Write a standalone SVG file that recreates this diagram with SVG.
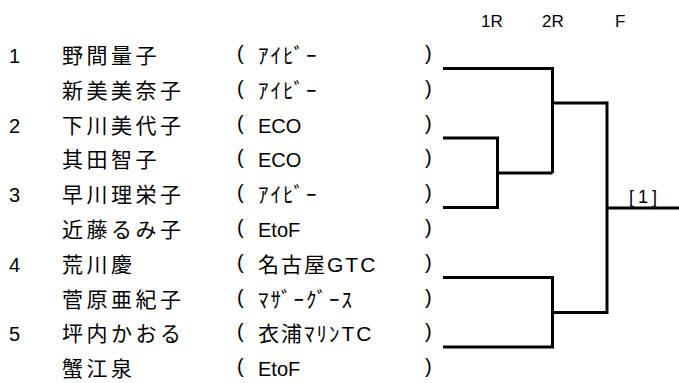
<svg xmlns="http://www.w3.org/2000/svg" width="679" height="383" viewBox="0 0 679 383">
<style>
text{font-family:"Liberation Sans","Noto Sans CJK JP",sans-serif;fill:#000}
.num{font-size:20px}
.name{font-size:21px;letter-spacing:3.5px}
.team{font-size:21px;letter-spacing:2px}
.lat{font-size:20px}
.par{font-size:20px}
.hdr{font-size:17px}
.res{font-size:18px;letter-spacing:4px}
.ln{fill:none;stroke:#000;stroke-width:3;stroke-linejoin:miter;stroke-linecap:butt}
</style>
<rect width="679" height="383" fill="#fff"/>
<g id="headers">
<text class="hdr" x="481" y="27">1R</text>
<text class="hdr" x="542" y="27">2R</text>
<text class="hdr" x="615" y="27">F</text>
</g>
<g id="p1"><text class="num" x="9" y="63">1</text><text class="name" x="62" y="63">野間量子</text><text class="par" x="237" y="60">(</text><text class="team" x="258" y="63">ｱｲﾋﾞｰ</text><text class="par" x="425" y="60">)</text></g>
<g id="p2"><text class="name" x="62" y="97.8">新美美奈子</text><text class="par" x="237" y="94.8">(</text><text class="team" x="258" y="97.8">ｱｲﾋﾞｰ</text><text class="par" x="425" y="94.8">)</text></g>
<g id="p3"><text class="num" x="9" y="132.6">2</text><text class="name" x="62" y="132.6">下川美代子</text><text class="par" x="237" y="129.6">(</text><text class="lat" x="258" y="132.6">ECO</text><text class="par" x="425" y="129.6">)</text></g>
<g id="p4"><text class="name" x="62" y="167.4">其田智子</text><text class="par" x="237" y="164.4">(</text><text class="lat" x="258" y="167.4">ECO</text><text class="par" x="425" y="164.4">)</text></g>
<g id="p5"><text class="num" x="9" y="202.2">3</text><text class="name" x="62" y="202.2">早川理栄子</text><text class="par" x="237" y="199.2">(</text><text class="team" x="258" y="202.2">ｱｲﾋﾞｰ</text><text class="par" x="425" y="199.2">)</text></g>
<g id="p6"><text class="name" x="62" y="237">近藤るみ子</text><text class="par" x="237" y="234">(</text><text class="lat" x="258" y="237">EtoF</text><text class="par" x="425" y="234">)</text></g>
<g id="p7"><text class="num" x="9" y="271.8">4</text><text class="name" x="62" y="271.8">荒川慶</text><text class="par" x="237" y="268.8">(</text><text class="team" x="258" y="271.8">名古屋GTC</text><text class="par" x="425" y="268.8">)</text></g>
<g id="p8"><text class="name" x="62" y="306.6">菅原亜紀子</text><text class="par" x="237" y="303.6">(</text><text class="team" x="258" y="306.6">ﾏｻﾞｰｸﾞｰｽ</text><text class="par" x="425" y="303.6">)</text></g>
<g id="p9"><text class="num" x="9" y="341.4">5</text><text class="name" x="62" y="341.4">坪内かおる</text><text class="par" x="237" y="338.4">(</text><text class="team" x="258" y="341.4">衣浦ﾏﾘﾝTC</text><text class="par" x="425" y="338.4">)</text></g>
<g id="p10"><text class="name" x="62" y="376.2">蟹江泉</text><text class="par" x="237" y="373.2">(</text><text class="lat" x="258" y="376.2">EtoF</text><text class="par" x="425" y="373.2">)</text></g>
<g id="connectors">
<polyline class="ln" points="443,138 497.5,138 497.5,207.5 443,207.5"/>
<line class="ln" x1="497.5" y1="173" x2="552.5" y2="173"/>
<polyline class="ln" points="443,68.5 552.5,68.5 552.5,173"/>
<line class="ln" x1="552.5" y1="103" x2="607" y2="103"/>
<polyline class="ln" points="443,277.5 552.5,277.5 552.5,347 443,347"/>
<line class="ln" x1="552.5" y1="312.5" x2="607" y2="312.5"/>
<line class="ln" x1="607" y1="101.5" x2="607" y2="314"/>
<line class="ln" x1="607" y1="208" x2="679" y2="208"/>
</g>
<g id="result"><text class="res" x="629" y="203">[1]</text></g>
</svg>
